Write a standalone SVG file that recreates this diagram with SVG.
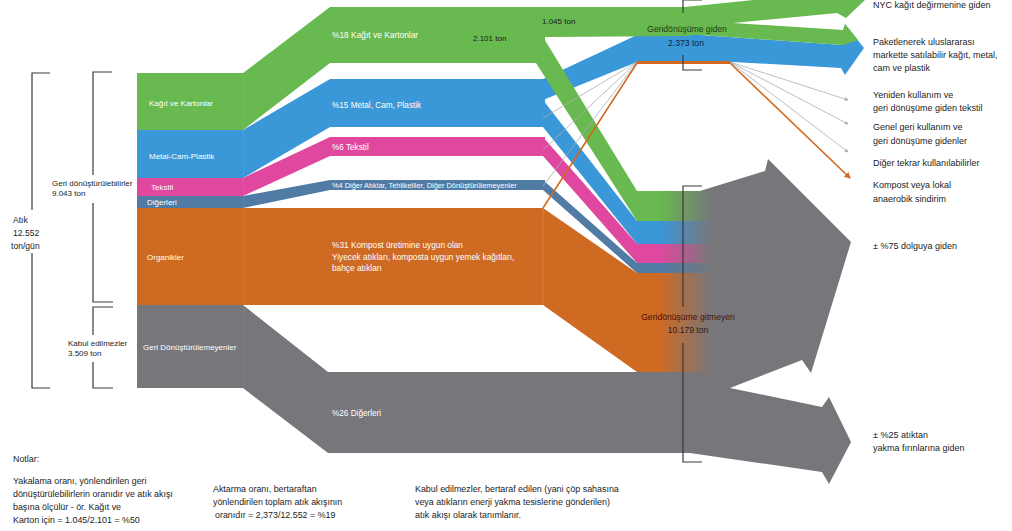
<svg xmlns="http://www.w3.org/2000/svg" width="1012" height="531" viewBox="0 0 1012 531">
<defs>
<style>
.t{font-family:"Liberation Sans",Arial,sans-serif;fill:#1c1c1c}
.w{font-family:"Liberation Sans",Arial,sans-serif;fill:#ffffff;font-size:8px}
.lbl{font-size:8.6px}
.rl{font-size:9px}
.note{font-size:8.9px}
.brk{fill:none;stroke:#3a3a3a;stroke-width:1.2}
.thin{fill:none;stroke:#a8aeb6;stroke-width:0.8}
.g{fill:#68b94f}.b{fill:#3a97d8}.p{fill:#e0489f}.s{fill:#4f7ba5}.o{fill:#cf6a23}.gr{fill:#77777b}
.seam{stroke:#ffffff;stroke-opacity:0.18;stroke-width:0.8}
</style>
<linearGradient id="fade" x1="0" y1="0" x2="1" y2="0">
<stop offset="0" stop-color="#77777b" stop-opacity="0"/>
<stop offset="0.3" stop-color="#77777b" stop-opacity="0"/>
<stop offset="1" stop-color="#77777b" stop-opacity="1"/>
</linearGradient>
<marker id="ah" viewBox="0 0 6 6" refX="5" refY="3" markerWidth="5" markerHeight="5" orient="auto"><path d="M0,0 L6,3 L0,6 Z" fill="#a8aeb6"/></marker>
<marker id="aho" viewBox="0 0 6 6" refX="5" refY="3" markerWidth="4" markerHeight="4" orient="auto"><path d="M0,0 L6,3 L0,6 Z" fill="#d2691e"/></marker>
</defs>
<rect width="1012" height="531" fill="#ffffff"/>

<!-- flows -->
<g id="connectors">
<!-- residual stream and the two disposal arrows -->
<path class="gr" d="M243,305 L328,372 L700,372 L700,191 L765,171 L768,159 L851,242 L811,373 L802,360 L730,388 L822,407 L829,397 L851,442 L829,484 L822,472 L690,453 L328,453 L243,388 Z"/>
<!-- organics -->
<path class="o" d="M243,208 L543,208 L637,273 L637,372 L543,305 L243,305 Z"/>
<!-- metal, glass, plastic -->
<path class="b" d="M243,130 L330,79 L545,79 L545,127 L330,127 L243,178 Z"/>
<path class="b" d="M543,79 L637,35 L637,62 L543,100 Z"/>
<path class="b" d="M637,35 L700,35 L843,45 L845,24 L864,48 L845,75 L841,68 L733,62 L637,62 Z"/>
<path class="b" d="M543,100 L637,221 L637,244 L543,127 Z"/>
<!-- textile -->
<path class="p" d="M243,178 L330,137 L545,137 L545,156 L330,156 L243,196 Z"/>
<path class="p" d="M543,137 L637,244 L637,263 L543,156 Z"/>
<!-- other -->
<path class="s" d="M243,196 L330,180 L545,180 L545,190 L330,190 L243,208 Z"/>
<path class="s" d="M543,180 L637,263 L637,273 L543,190 Z"/>
<!-- paper and cardboard -->
<path class="g" d="M243,73 L330,7 L690,7 L690,36 L545,37 L545,63 L330,63 L243,130 Z"/>
<path class="g" d="M685,7 L832,-8 L830,-22 L866,-1 L846,18 L837,13 L733,23 L685,23 Z"/>
<path class="g" d="M685,23 L733,23 L843,30 L845,24 L858,40 L843,45 L700,35 L685,35 Z"/>
<path class="g" d="M543,37 L637,191 L637,221 L536,63 Z"/>
<!-- diverted small streams -->
<path class="thin" d="M543,118 L637,62"/>
<path class="thin" d="M543,150 L637,62"/>
<path class="thin" d="M543,186 L637,62"/>
<path class="thin" d="M730,62 L848,100" marker-end="url(#ah)"/>
<path class="thin" d="M730,62 L848,124" marker-end="url(#ah)"/>
<path class="thin" d="M730,62 L848,152" marker-end="url(#ah)"/>
<path d="M543,208 L637,63 L730,63 L850,178" fill="none" stroke="#d2691e" stroke-width="1.6" marker-end="url(#aho)"/>
<path d="M637,62.5 L730,62.5" stroke="#d2691e" stroke-width="3"/>
<path class="seam" d="M243,73 V388 M543,208 V305"/>
</g>

<!-- source column -->
<g id="node-kagit"><rect x="137" y="73" width="106" height="57" class="g"/><text class="w" x="149" y="106">Kağıt ve Kartonlar</text></g>
<g id="node-metal"><rect x="137" y="130" width="106" height="48" class="b"/><text class="w" x="149" y="159">Metal-Cam-Plastik</text></g>
<g id="node-tekstil"><rect x="137" y="178" width="106" height="18" class="p"/><text class="w" x="151" y="190">Tekstil</text></g>
<g id="node-digerleri"><rect x="137" y="196" width="106" height="12" class="s"/><text class="w" x="147" y="205">Diğerleri</text></g>
<g id="node-organik"><rect x="137" y="208" width="106" height="97" class="o"/><text class="w" x="147" y="260">Organikler</text></g>
<g id="node-donusmeyen"><rect x="137" y="305" width="106" height="83" class="gr"/><text class="w" x="143" y="350">Geri Dönüştürülemeyenler</text></g>

<!-- flow labels -->
<g id="flow-labels">
<text class="w" x="332" y="38" style="font-size:8.4px">%18 Kağıt ve Kartonlar</text>
<text class="w" x="332" y="108" style="font-size:8.2px">%15 Metal, Cam, Plastik</text>
<text class="w" x="332" y="150" style="font-size:8.2px">%6 Tekstil</text>
<text class="w" x="332" y="188" style="font-size:7.4px">%4 Diğer Atıklar, Tehlikeliler, Diğer Dönüştürülemeyenler</text>
<text class="w" x="332" y="248" style="font-size:8.3px">%31 Kompost üretimine uygun olan</text>
<text class="w" x="332" y="260" style="font-size:8.3px">Yiyecek atıkları, komposta uygun yemek kağıtları,</text>
<text class="w" x="332" y="271" style="font-size:8.3px">bahçe atıkları</text>
<text class="w" x="332" y="416" style="font-size:8.2px">%26 Diğerleri</text>
<text class="t" x="473" y="41" style="font-size:8px">2.101 ton</text>
<text class="t" x="542" y="24" style="font-size:8px">1.045 ton</text>
</g>

<!-- recycled stack -->
<g id="node-geridonusum">
<path class="brk" d="M702,0 H683 V13 M683,55 V70 H702"/>
<text class="t lbl" x="687" y="32" text-anchor="middle" style="fill:#1f3d14">Geridönüşüme giden</text>
<text class="t lbl" x="686" y="46" text-anchor="middle" style="fill:#10233f">2.373 ton</text>
</g>

<!-- non-recycled stack -->
<g id="node-gitmeyen">
<rect x="637" y="191" width="75" height="30" class="g"/>
<rect x="637" y="221" width="75" height="23" class="b"/>
<rect x="637" y="244" width="75" height="19" class="p"/>
<rect x="637" y="263" width="75" height="10" class="s"/>
<rect x="637" y="273" width="75" height="99" class="o"/>
<rect x="637" y="191" width="75" height="181" fill="url(#fade)"/>
<path class="brk" d="M702,186 H683 V307 M683,343 V462 H702"/>
<text class="t lbl" x="688" y="320" text-anchor="middle" style="fill:#4a1208">Geridönüşüme gitmeyen</text>
<text class="t lbl" x="688" y="333" text-anchor="middle" style="fill:#2a1a12">10.179 ton</text>
</g>

<!-- left totals -->
<g id="node-atik">
<path class="brk" d="M50,73 H32 V210 M32,253 V388 H50"/>
<text class="t lbl" x="13" y="223">Atık</text>
<text class="t lbl" x="13" y="236">12.552</text>
<text class="t lbl" x="11" y="249">ton/gün</text>
</g>
<g id="node-geridonusturulebilir">
<path class="brk" d="M112,72 H93 V175 M93,203 V302 H113"/>
<text class="t" x="52" y="186" style="font-size:8px">Geri dönüştürülebilirler</text>
<text class="t" x="52" y="196" style="font-size:8px">9.043 ton</text>
</g>
<g id="node-kabul">
<path class="brk" d="M113,307 H93 V335 M93,362 V388 H113"/>
<text class="t" x="68" y="346" style="font-size:8px">Kabul edilmezler</text>
<text class="t" x="68" y="356" style="font-size:8px">3.509 ton</text>
</g>

<!-- destinations -->
<g id="dest-nyc"><text class="t rl" x="873" y="8">NYC kağıt değirmenine giden</text></g>
<g id="dest-paket">
<text class="t rl" x="873" y="45">Paketlenerek uluslararası</text>
<text class="t rl" x="873" y="58">markette satılabilir kağıt, metal,</text>
<text class="t rl" x="873" y="71">cam ve plastik</text>
</g>
<g id="dest-tekstil">
<text class="t rl" x="873" y="98">Yeniden kullanım ve</text>
<text class="t rl" x="873" y="111">geri dönüşüme giden tekstil</text>
</g>
<g id="dest-genel">
<text class="t rl" x="873" y="130">Genel geri kullanım ve</text>
<text class="t rl" x="873" y="144">geri dönüşüme gidenler</text>
</g>
<g id="dest-diger"><text class="t rl" x="873" y="166">Diğer tekrar kullanılabilirler</text></g>
<g id="dest-kompost">
<text class="t rl" x="873" y="188">Kompost veya lokal</text>
<text class="t rl" x="873" y="202">anaerobik sindirim</text>
</g>
<g id="dest-dolgu"><text class="t rl" x="873" y="249">± %75 dolguya giden</text></g>
<g id="dest-yakma">
<text class="t rl" x="873" y="438">± %25 atıktan</text>
<text class="t rl" x="873" y="451">yakma fırınlarına giden</text>
</g>

<!-- notes -->
<g id="notes">
<text class="t note" x="13" y="462">Notlar:</text>
<text class="t note" x="13" y="484">Yakalama oranı, yönlendirilen geri</text>
<text class="t note" x="13" y="497">dönüştürülebilirlerin oranıdır ve atık akışı</text>
<text class="t note" x="13" y="510">başına ölçülür - ör. Kağıt ve</text>
<text class="t note" x="13" y="523">Karton için = 1.045/2.101 = %50</text>
<text class="t note" x="213" y="492">Aktarma oranı, bertaraftan</text>
<text class="t note" x="213" y="505">yönlendirilen toplam atık akışının</text>
<text class="t note" x="215" y="518">oranıdır = 2,373/12.552 = %19</text>
<text class="t note" x="415" y="492">Kabul edilmezler, bertaraf edilen (yani çöp sahasına</text>
<text class="t note" x="415" y="505">veya atıkların enerji yakma tesislerine gönderilen)</text>
<text class="t note" x="415" y="518">atık akışı olarak tanımlanır.</text>
</g>
</svg>
